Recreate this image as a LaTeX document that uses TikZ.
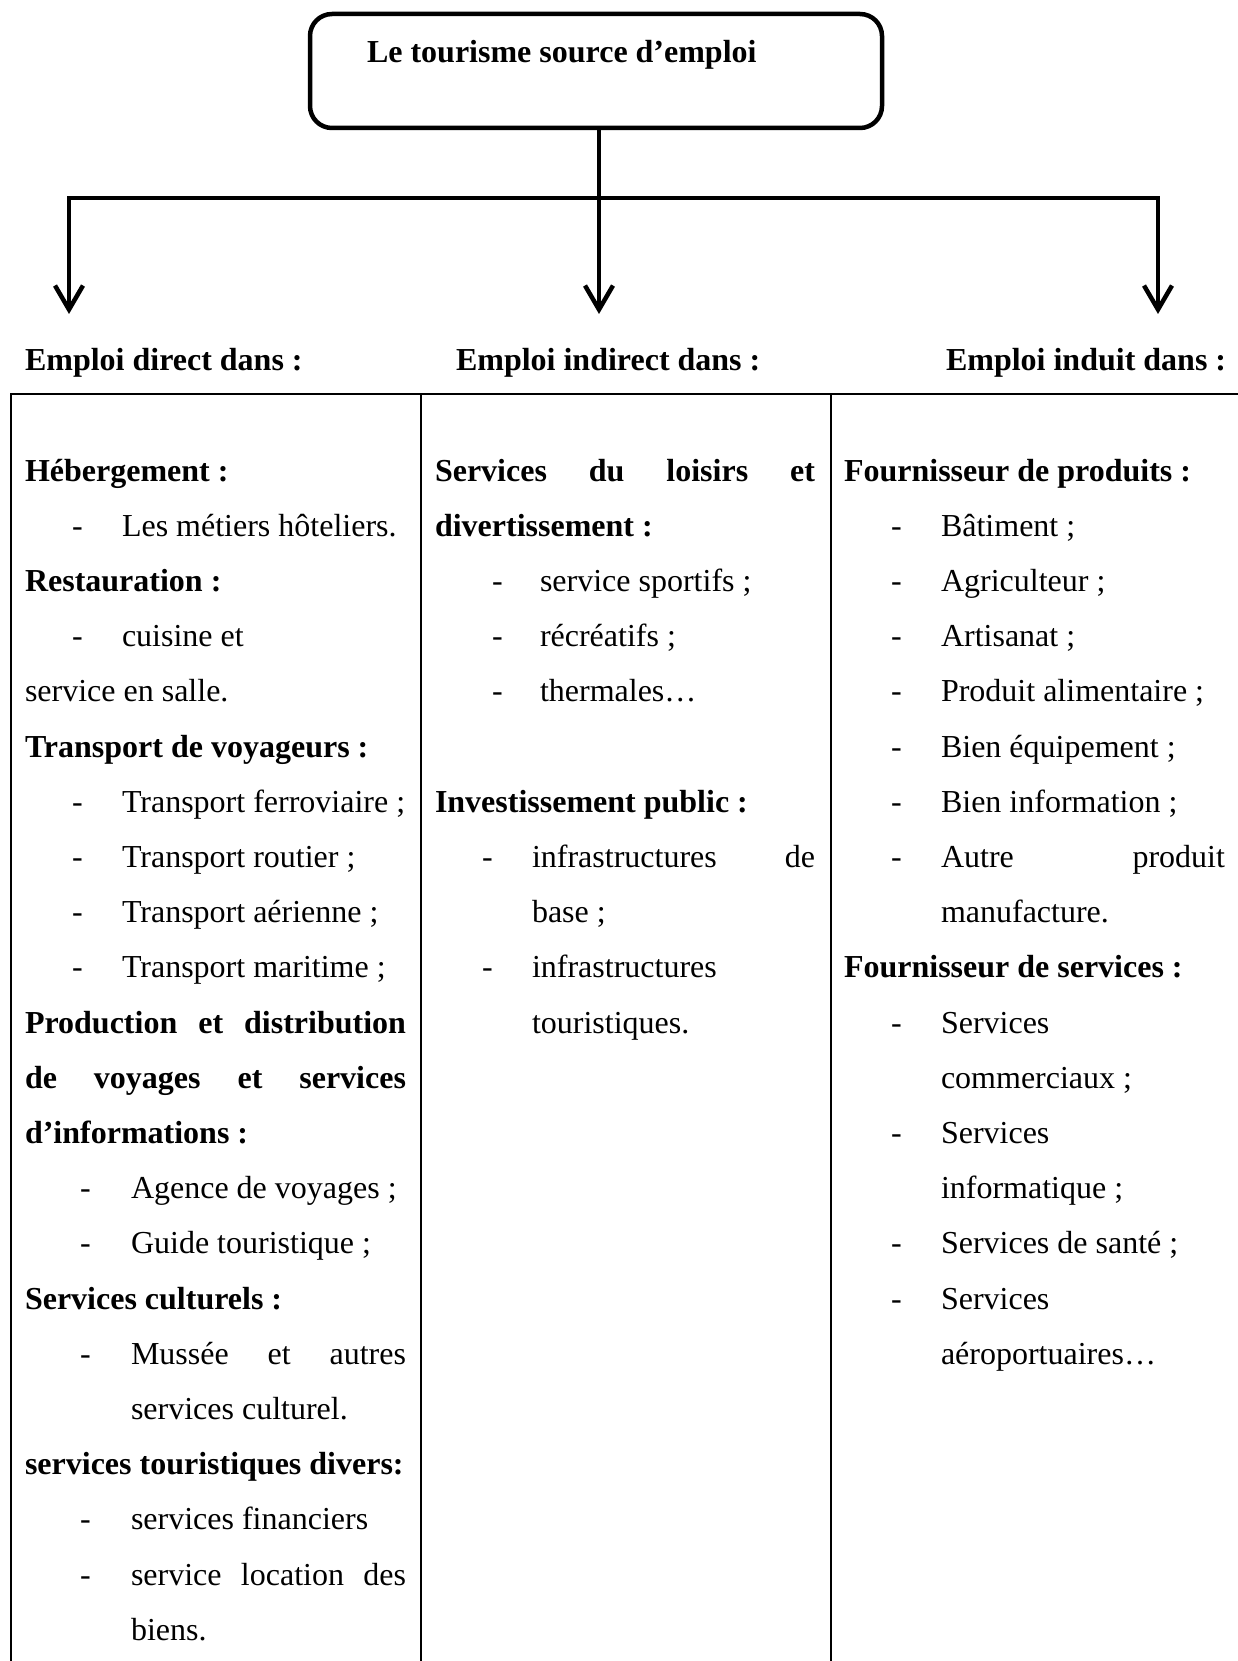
\documentclass[tikz,border=0pt]{standalone}
\usepackage{fontspec}
\setmainfont{Liberation Serif}
\usetikzlibrary{arrows.meta}
\tikzset{
  txt/.style={anchor=base west, inner sep=0pt, outer sep=0pt, font=\fontsize{32}{38}\selectfont},
  titlebox/.style={draw, line width=4.5pt, rounded corners=22pt, minimum width=572pt, minimum height=114pt, inner sep=0pt},
  conn/.style={line width=4.5pt},
  arr/.style={line width=4.5pt, -{Straight Barb[length=24pt,width=28pt,line width=4.5pt]}},
  arrboth/.style={line width=4.5pt, line join=miter, {Straight Barb[length=24pt,width=28pt,line width=4.5pt]}-{Straight Barb[length=24pt,width=28pt,line width=4.5pt]}},
  tbl/.style={line width=2.2pt, line join=miter}
}
\newcommand\putline[4]{\node[txt] (#1) at (#2,{481+(#3-1)*55.2}) {#4};}
\begin{document}
\begin{tikzpicture}[x=1pt,y=-1pt]
\useasboundingbox (0,0) rectangle (1237,1661);
% top box
\node[titlebox] (top) at (596,71) {};
\node[txt, font=\fontsize{32}{38}\selectfont\bfseries] (title) at (367,63) {Le tourisme source d’emploi};
% connectors
\coordinate (j) at (599,198);
\coordinate (jl) at (69,198);
\coordinate (jr) at (1158,198);
\coordinate (e1) at (69,314);
\coordinate (e2) at (599,314);
\coordinate (e3) at (1158,314);
\draw[conn] (top.south -| j) -- (j);
\draw[arrboth] (e1) -- (jl) -- (jr) -- (e3);
\draw[arr] (j) -- (e2);
% headers
\node[txt, font=\fontsize{32}{38}\selectfont\bfseries] (h1) at (25,370) {Emploi direct dans :};
\node[txt, font=\fontsize{32}{38}\selectfont\bfseries] (h2) at (456,370) {Emploi indirect dans :};
\node[txt, font=\fontsize{32}{38}\selectfont\bfseries] (h3) at (946,370) {Emploi induit dans :};
% table
\draw[tbl] (1240,394) -- (11,394) -- (11,1665);
\draw[tbl] (421,394) -- (421,1665);
\draw[tbl] (831,394) -- (831,1665);
% column 1
\putline{a1}{25}{1}{\textbf{Hébergement :}}
\putline{a2d}{72}{2}{-}
\putline{a2}{122}{2}{Les métiers hôteliers.}
\putline{a3}{25}{3}{\textbf{Restauration :}}
\putline{a4d}{72}{4}{-}
\putline{a4}{122}{4}{cuisine et}
\putline{a5}{25}{5}{service en salle.}
\putline{a6}{25}{6}{\textbf{Transport de voyageurs :}}
\putline{a7d}{72}{7}{-}
\putline{a7}{122}{7}{Transport ferroviaire ;}
\putline{a8d}{72}{8}{-}
\putline{a8}{122}{8}{Transport routier ;}
\putline{a9d}{72}{9}{-}
\putline{a9}{122}{9}{Transport aérienne ;}
\putline{a10d}{72}{10}{-}
\putline{a10}{122}{10}{Transport maritime ;}
\putline{a11}{25}{11}{\hbox to 381pt{\bfseries Production\hfill et\hfill distribution}}
\putline{a12}{25}{12}{\hbox to 381pt{\bfseries de\hfill voyages\hfill et\hfill services}}
\putline{a13}{25}{13}{\textbf{d’informations :}}
\putline{a14d}{80}{14}{-}
\putline{a14}{131}{14}{Agence de voyages ;}
\putline{a15d}{80}{15}{-}
\putline{a15}{131}{15}{Guide touristique ;}
\putline{a16}{25}{16}{\textbf{Services culturels :}}
\putline{a17d}{80}{17}{-}
\putline{a17}{131}{17}{\hbox to 275pt{Mussée\hfill et\hfill autres}}
\putline{a18}{131}{18}{services culturel.}
\putline{a19}{25}{19}{\textbf{services touristiques divers:}}
\putline{a20d}{80}{20}{-}
\putline{a20}{131}{20}{services financiers}
\putline{a21d}{80}{21}{-}
\putline{a21}{131}{21}{\hbox to 275pt{service\hfill location\hfill des}}
\putline{a22}{131}{22}{biens.}
% column 2
\putline{b1}{435}{1}{\hbox to 380pt{\bfseries Services\hfill du\hfill loisirs\hfill et}}
\putline{b2}{435}{2}{\textbf{divertissement :}}
\putline{b3d}{492}{3}{-}
\putline{b3}{540}{3}{service sportifs ;}
\putline{b4d}{492}{4}{-}
\putline{b4}{540}{4}{récréatifs ;}
\putline{b5d}{492}{5}{-}
\putline{b5}{540}{5}{thermales…}
\putline{b7}{435}{7}{\textbf{Investissement public :}}
\putline{b8d}{482}{8}{-}
\putline{b8}{532}{8}{\hbox to 283pt{infrastructures\hfill de}}
\putline{b9}{532}{9}{base ;}
\putline{b10d}{482}{10}{-}
\putline{b10}{532}{10}{infrastructures}
\putline{b11}{532}{11}{touristiques.}
% column 3
\putline{c1}{844}{1}{\textbf{Fournisseur de produits :}}
\putline{c2d}{891}{2}{-}
\putline{c2}{941}{2}{Bâtiment ;}
\putline{c3d}{891}{3}{-}
\putline{c3}{941}{3}{Agriculteur ;}
\putline{c4d}{891}{4}{-}
\putline{c4}{941}{4}{Artisanat ;}
\putline{c5d}{891}{5}{-}
\putline{c5}{941}{5}{Produit alimentaire ;}
\putline{c6d}{891}{6}{-}
\putline{c6}{941}{6}{Bien équipement ;}
\putline{c7d}{891}{7}{-}
\putline{c7}{941}{7}{Bien information ;}
\putline{c8d}{891}{8}{-}
\putline{c8}{941}{8}{\hbox to 284pt{Autre\hfill produit}}
\putline{c9}{941}{9}{manufacture.}
\putline{c10}{844}{10}{\textbf{Fournisseur de services :}}
\putline{c11d}{891}{11}{-}
\putline{c11}{941}{11}{Services}
\putline{c12}{941}{12}{commerciaux ;}
\putline{c13d}{891}{13}{-}
\putline{c13}{941}{13}{Services}
\putline{c14}{941}{14}{informatique ;}
\putline{c15d}{891}{15}{-}
\putline{c15}{941}{15}{Services de santé ;}
\putline{c16d}{891}{16}{-}
\putline{c16}{941}{16}{Services}
\putline{c17}{941}{17}{aéroportuaires…}
\end{tikzpicture}
\end{document}
